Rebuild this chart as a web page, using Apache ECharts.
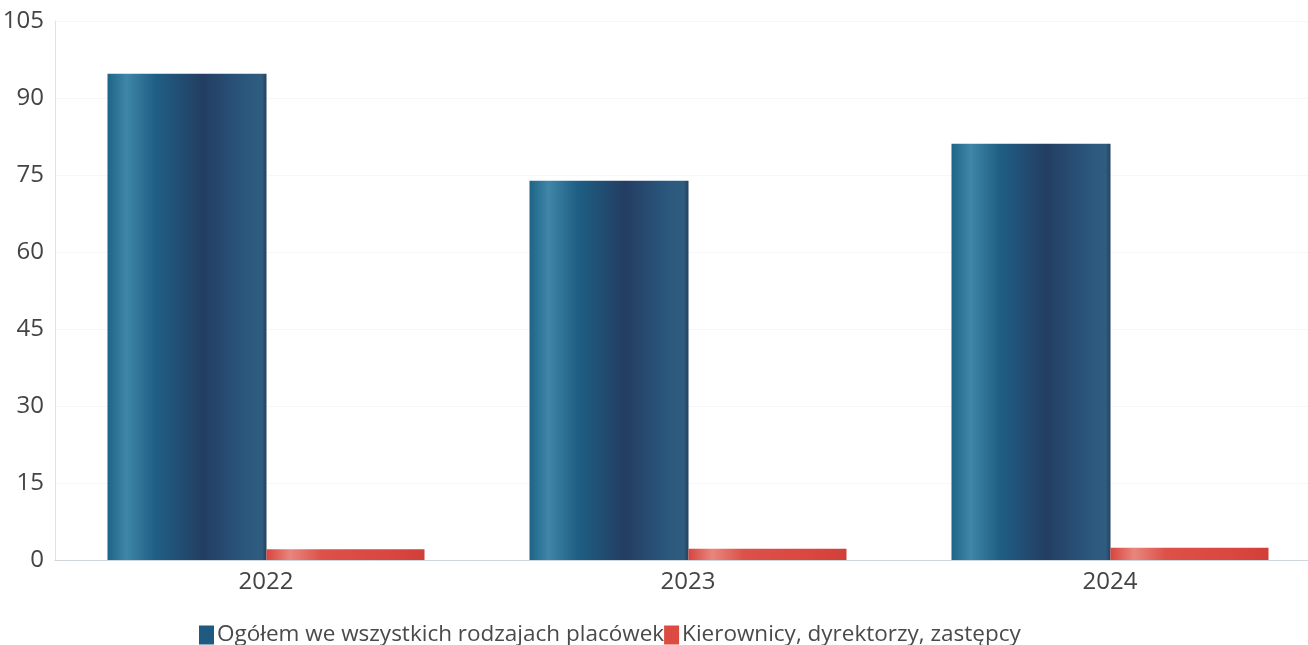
<!DOCTYPE html>
<html><head><meta charset="utf-8">
<script src="https://cdn.jsdelivr.net/npm/echarts@6/dist/echarts.min.js"></script>
<style>html,body{margin:0;padding:0;background:#fff}#c{width:1308px;height:645px}</style>
</head><body><div id="c"></div>
<script>
const categories = ['2022', '2023', '2024'];
const seriesNames = ['Ogółem we wszystkich rodzajach placówek', 'Kierownicy, dyrektorzy, zastępcy'];
const totalValues = [94.7, 73.9, 81.1];
const managerValues = [2.1, 2.2, 2.4];
const yTicks = [0, 15, 30, 45, 60, 75, 90, 105];

const blueGrad = new echarts.graphic.LinearGradient(0, 0, 1, 0, [
  {offset: 0, color: '#1e6487'},
  {offset: 0.12, color: '#3f86a8'},
  {offset: 0.3, color: '#1f5f85'},
  {offset: 0.6, color: '#243d62'},
  {offset: 0.85, color: '#2a567c'},
  {offset: 0.97, color: '#2f5d80'},
  {offset: 1, color: '#26405e'}
]);
const redGrad = new echarts.graphic.LinearGradient(0, 0, 1, 0, [
  {offset: 0, color: '#d8453d'},
  {offset: 0.15, color: '#e8867e'},
  {offset: 0.35, color: '#dc5149'},
  {offset: 0.8, color: '#d9463f'},
  {offset: 1, color: '#d03f38'}
]);

const chart = echarts.init(document.getElementById('c'));
chart.setOption({
  animation: false,
  textStyle: {fontFamily: 'Open Sans'},
  grid: {left: 55, width: 1266, top: 21, height: 539, outerBoundsMode: 'none', containLabel: false},
  legend: {
    left: 194, top: 617, itemGap: 0, itemWidth: 15, itemHeight: 19,
    icon: 'rect',
    textStyle: {fontSize: 22.5, lineHeight: 26, color: '#4a4a4a', fontFamily: 'Open Sans', padding: [0, 0, 0, -2]},
    data: [
      {name: seriesNames[0], itemStyle: {color: '#1f5a80'}},
      {name: seriesNames[1], itemStyle: {color: '#dc4a42'}}
    ]
  },
  xAxis: {
    type: 'category', data: categories,
    axisLine: {lineStyle: {color: '#cfd6dc'}},
    axisTick: {show: false},
    axisLabel: {fontSize: 24, color: '#444', margin: 10}
  },
  yAxis: {
    type: 'value', min: 0, max: 105, interval: 15,
    axisLine: {show: true, lineStyle: {color: '#dde2e6'}},
    axisTick: {show: false},
    splitLine: {lineStyle: {color: '#f6f7f8'}},
    axisLabel: {fontSize: 24, color: '#444', margin: 11}
  },
  series: [
    {name: seriesNames[0], type: 'bar', data: totalValues, barWidth: 159, barGap: '0%',
     itemStyle: {color: blueGrad}},
    {name: seriesNames[1], type: 'bar', data: managerValues, barWidth: 158,
     itemStyle: {color: redGrad}}
  ]
});
</script></body></html>
